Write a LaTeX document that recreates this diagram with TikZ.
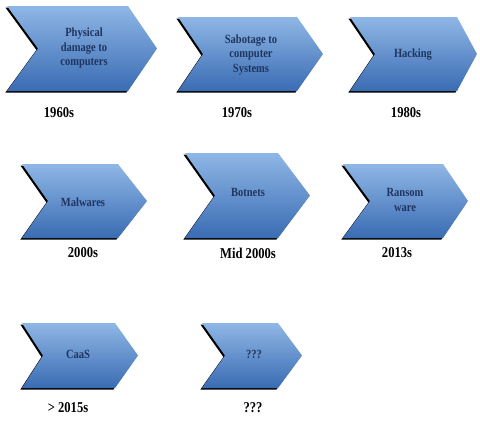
\documentclass[tikz,border=0pt]{standalone}
\usepackage{fontspec}
\setmainfont{Liberation Serif}[FakeStretch=0.84]
\definecolor{chevtop}{HTML}{8FB7E6}
\definecolor{chevbot}{HTML}{3A6CB3}
\definecolor{chevtext}{HTML}{1F3560}
\tikzset{
  chevtxt/.style={text=chevtext,font=\bfseries\fontsize{12.5}{14.5}\selectfont,align=center,inner sep=0pt},
  yearlbl/.style={text=black,font=\bfseries\fontsize{15}{16}\selectfont,inner sep=0pt},
}
% #1 L, #2 T, #3 R, #4 tip x, #5 B, #6 notch x
\newcommand{\chevshape}[6]{%
  \fill[black,shift={(-1.6,1.5)}] (#1,#2) -- (#3,#2) -- (#4,{(#2+#5)/2}) -- (#3,#5) -- (#1,#5) -- (#6,{(#2+#5)/2}) -- cycle;
  \shade[top color=chevtop,bottom color=chevbot] (#1,#2) -- (#3,#2) -- (#4,{(#2+#5)/2}) -- (#3,#5) -- (#1,#5) -- (#6,{(#2+#5)/2}) -- cycle;
}
\begin{document}
\begin{tikzpicture}[x=1pt,y=-1pt]
\useasboundingbox[fill=white] (0,0) rectangle (480,426);
% row 1
\chevshape{7}{6}{128}{157}{91}{38}
\node[chevtxt] (c1) at (84,48) {Physical\\damage to\\computers};
\node[yearlbl] (y1) at (59,113) {1960s};
\chevshape{178}{17}{297}{323}{91}{203}
\node[chevtxt] (c2) at (251,55) {Sabotage to\\computer\\Systems};
\node[yearlbl] (y2) at (237,113) {1970s};
\chevshape{350}{17}{457}{477}{91}{375}
\node[chevtxt] (c3) at (413,55) {Hacking};
\node[yearlbl] (y3) at (406,113) {1980s};
% row 2
\chevshape{22}{164}{118}{147}{238}{48}
\node[chevtxt] (c4) at (83,202) {Malwares};
\node[yearlbl] (y4) at (83,253) {2000s};
\chevshape{185}{153}{278}{310}{238}{215}
\node[chevtxt] (c5) at (248,192) {Botnets};
\node[yearlbl] (y5) at (248,253) {Mid 2000s};
\chevshape{343}{164}{443}{468}{238}{370}
\node[chevtxt] (c6) at (405,200) {Ransom\\ware};
\node[yearlbl] (y6) at (397,253) {2013s};
% row 3
\chevshape{22}{323}{115}{138}{388}{43}
\node[chevtxt] (c7) at (78,354) {CaaS};
\node[yearlbl] (y7) at (68,408) {> 2015s};
\chevshape{202}{323}{278}{302}{388}{225}
\node[chevtxt] (c8) at (254,354) {???};
\node[yearlbl] (y8) at (253,408) {???};
\end{tikzpicture}
\end{document}
